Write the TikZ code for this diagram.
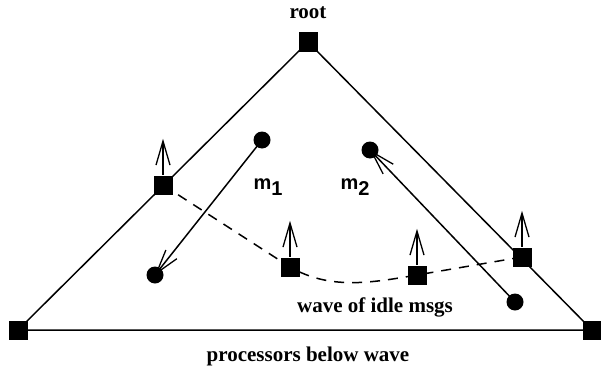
\documentclass[tikz,border=0pt]{standalone}
\usepackage{fontspec}
\setmainfont{Liberation Serif}
\newfontfamily\helv{Liberation Sans}
\usetikzlibrary{arrows.meta}
\begin{document}
\begin{tikzpicture}[x=1pt,y=-1pt,line width=1.5pt,
  proc/.style={fill=black,minimum size=19pt,inner sep=0pt,draw=none},
  msg/.style={circle,fill=black,minimum size=17pt,inner sep=0pt,draw=none},
  barb/.style={-{Straight Barb[length=24pt,width=14pt,line width=1.3pt]}},
  lbl/.style={font=\bfseries\fontsize{21}{23}\selectfont},
  mlbl/.style={font=\helv\bfseries\fontsize{20}{22}\selectfont}]
\useasboundingbox (0,0) rectangle (601,369);
\node[proc] (root) at (308,42) {};
\node[proc] (bl) at (18,330) {};
\node[proc] (br) at (592,330) {};
\node[proc] (pl) at (163,185) {};
\node[proc] (pr) at (522,257) {};
\node[proc] (p1) at (290,267) {};
\node[proc] (p2) at (417,275) {};
\draw (root.center) -- (bl.center) -- (br.center) -- cycle;
% up arrows
\foreach \n in {pl,pr,p1,p2}{
  \coordinate (\n t) at ([yshift=36pt]\n.north);
  \draw[barb] (\n.north) -- (\n t);
}
% wave
\draw[dashed,dash pattern=on 10pt off 8pt] (pl.center) -- (p1.center)
  .. controls (330,290) and (370,283) .. (p2.center) -- (pr.center);
% messages
\node[msg] (m1s) at (262,140) {};
\node[msg] (m1e) at (155,275) {};
\node[msg] (m2e) at (370,150) {};
\node[msg] (m2s) at (515,302) {};
\draw[barb] (m1s.center) -- (m1e.center);
\draw[barb] (m2s.center) -- (m2e.center);
\node[mlbl] (l1) at (268,187) {m\raisebox{-6pt}{1}};
\node[mlbl] (l2) at (355,187) {m\raisebox{-6pt}{2}};
\node[lbl] (root lbl) at (308,13) {root};
\node[lbl] (wave) at (375,307) {wave of idle msgs};
\node[lbl] (proc lbl) at (308,356) {processors below wave};
\end{tikzpicture}
\end{document}
